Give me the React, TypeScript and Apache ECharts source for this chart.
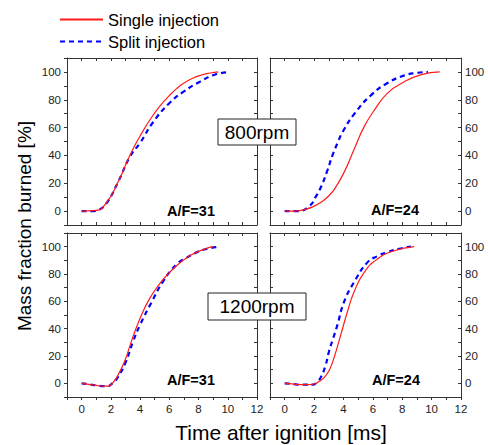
import React, { useEffect, useRef } from 'react';
import * as echarts from 'echarts';

// ---- Data (time after ignition [ms], mass fraction burned [%]) ----
// 800 rpm, A/F = 31
const r800af31SingleT = [0, 1.0, 1.7, 2.5, 3.3, 4.0, 4.7, 5.4, 6.0, 6.5, 7.0, 7.6, 8.2, 8.8, 9.35];
const r800af31SingleV = [0, 0.5, 6, 21, 40, 54, 66, 76, 83, 88, 92, 95.5, 97.8, 99.2, 100];
const r800af31SplitT = [0, 0.8, 1.2, 1.7, 2.5, 3.3, 4.0, 4.9, 6.0, 7.0, 8.1, 9.1, 10.15];
const r800af31SplitV = [0, 0, 1, 5.5, 21, 39, 49, 64, 77.5, 86, 93, 98, 100];
// 800 rpm, A/F = 24
const r800af24SingleT = [0, 0.7, 1.3, 1.9, 2.5, 3.0, 3.4, 4.05, 4.75, 5.4, 6.1, 7.0, 8.15, 9.3, 10.55];
const r800af24SingleV = [0, 0, 1, 3, 6.5, 11, 16, 28, 45, 60.5, 72.5, 84.8, 93, 98, 100];
const r800af24SplitT = [0, 0.9, 1.7, 2.1, 2.5, 2.9, 3.25, 3.6, 3.95, 4.75, 5.9, 7.0, 8.15, 9.0, 9.75];
const r800af24SplitV = [0, 0, 3.8, 10, 18, 29, 40, 49, 57, 70, 83.5, 92, 97.5, 99.3, 100];
// 1200 rpm, A/F = 31
const r1200af31SingleT = [0, 0.5, 1.0, 1.5, 1.8, 2.1, 2.4, 2.95, 3.4, 4.0, 4.65, 5.35, 6.25, 7.4, 8.5, 9.0];
const r1200af31SingleV = [0, -0.7, -1.5, -2, -2, 0, 4.3, 16.3, 30.5, 47.6, 62, 73, 83.7, 93.4, 98.6, 100];
const r1200af31SplitT = [0, 0.5, 1.0, 1.5, 1.8, 2.1, 2.45, 3.0, 3.5, 4.0, 4.8, 5.6, 6.5, 7.2, 7.9, 8.6, 9.47];
const r1200af31SplitV = [0, -0.7, -1.5, -2, -2, 0, 4, 15, 30, 42.8, 59.6, 75, 87, 92, 96, 98.5, 100];
// 1200 rpm, A/F = 24
const r1200af24SingleT = [0, 0.5, 1.1, 1.6, 2.0, 2.35, 2.7, 3.05, 3.36, 3.82, 4.27, 4.72, 5.41, 6.31, 7.45, 8.81];
const r1200af24SingleV = [0, -0.4, -1, -1, -0.5, 1.5, 4.3, 10, 18.8, 35.6, 52.4, 66.8, 81.2, 91, 97, 100];
const r1200af24SplitT = [0, 0.5, 1.1, 1.5, 1.9, 2.2, 2.45, 2.75, 3.02, 3.3, 3.59, 4.04, 4.72, 5.63, 6.3, 7.0, 7.8, 8.59];
const r1200af24SplitV = [0, -0.4, -1, -1, -1, 1, 4.3, 12, 23.5, 33, 42.8, 59.6, 74, 88.5, 93, 96, 98.5, 100];

const xTickLabels = [0, 2, 4, 6, 8, 10, 12];
const yTickLabels = [0, 20, 40, 60, 80, 100];
const panelLabels = ['A/F=31', 'A/F=24', 'A/F=31', 'A/F=24'];
const speedLabels = ['800rpm', '1200rpm'];
const seriesNames = ['Single injection', 'Split injection'];

const FONT = '"Liberation Sans", Arial, Helvetica, sans-serif';
const AXIS_COLOR = '#333';

const grids = [
  { left: 67, top: 58, width: 190, height: 167 },
  { left: 270, top: 58, width: 191, height: 167 },
  { left: 67, top: 233, width: 190, height: 164 },
  { left: 270, top: 233, width: 191, height: 164 },
];

const panelData = [
  [r800af31SingleT, r800af31SingleV, r800af31SplitT, r800af31SplitV],
  [r800af24SingleT, r800af24SingleV, r800af24SplitT, r800af24SplitV],
  [r1200af31SingleT, r1200af31SingleV, r1200af31SplitT, r1200af31SplitV],
  [r1200af24SingleT, r1200af24SingleV, r1200af24SplitT, r1200af24SplitV],
];

function pairs(t: number[], v: number[]) {
  return t.map((x, i) => [x, v[i]]);
}

function xAxisDef(gridIndex: number, position: string, showLabel: boolean, inside: boolean) {
  return {
    type: 'value',
    gridIndex,
    position,
    min: -1,
    max: 12,
    interval: 1,
    axisLine: { show: true, onZero: false, lineStyle: { color: AXIS_COLOR, width: 1 } },
    axisTick: { show: true, inside, length: 3, lineStyle: { color: AXIS_COLOR, width: 1 } },
    splitLine: { show: false },
    axisLabel: {
      show: showLabel,
      margin: 6,
      color: '#222',
      fontSize: 11.5,
      fontFamily: FONT,
      formatter: (v: number) => (xTickLabels.includes(v) ? String(v) : ''),
    },
  };
}

function yAxisDef(gridIndex: number, position: string, showLabel: boolean, inside: boolean) {
  return {
    type: 'value',
    gridIndex,
    position,
    min: -10,
    max: 110,
    interval: 10,
    axisLine: { show: true, onZero: false, lineStyle: { color: AXIS_COLOR, width: 1 } },
    axisTick: { show: true, inside, length: 3, lineStyle: { color: AXIS_COLOR, width: 1 } },
    splitLine: { show: false },
    axisLabel: {
      show: showLabel,
      margin: position === 'left' ? 6 : 4,
      color: '#222',
      fontSize: 11.5,
      fontFamily: FONT,
      formatter: (v: number) => (yTickLabels.includes(v) ? String(v) : ''),
    },
  };
}

export default function App() {
  const ref = useRef<HTMLDivElement>(null);
  useEffect(() => {
    if (!ref.current) return;
    const chart = echarts.init(ref.current, undefined, { renderer: 'svg' });

    const xAxis: any[] = [];
    const yAxis: any[] = [];
    grids.forEach((_, i) => {
      const bottomRow = i >= 2;
      const leftCol = i % 2 === 0;
      xAxis.push(xAxisDef(i, 'bottom', bottomRow, !bottomRow));
      xAxis.push(xAxisDef(i, 'top', false, true));
      yAxis.push(yAxisDef(i, 'left', leftCol, !leftCol));
      yAxis.push(yAxisDef(i, 'right', !leftCol, true));
    });

    const series: any[] = [];
    panelData.forEach((d, i) => {
      series.push({
        name: seriesNames[0],
        type: 'line',
        xAxisIndex: 2 * i,
        yAxisIndex: 2 * i,
        data: pairs(d[0], d[1]),
        symbol: 'none',
        smooth: 0.5,
        lineStyle: { color: '#ff1a1a', width: 1.2 },
        itemStyle: { color: '#ff1a1a' },
        z: 3,
      });
      series.push({
        name: seriesNames[1],
        type: 'line',
        xAxisIndex: 2 * i,
        yAxisIndex: 2 * i,
        data: pairs(d[2], d[3]),
        symbol: 'none',
        smooth: 0.5,
        lineStyle: { color: '#0000ff', width: 2.2, type: [5, 4] },
        itemStyle: { color: '#0000ff' },
        z: 2,
      });
    });

    const afPos = [
      [191, 211],
      [395, 210],
      [191, 380],
      [396, 380],
    ];
    const graphic: any[] = [];
    panelLabels.forEach((txt, i) => {
      graphic.push({
        type: 'text',
        x: afPos[i][0],
        y: afPos[i][1],
        z: 10,
        style: {
          text: txt,
          fill: '#000',
          font: `bold 14.5px ${FONT}`,
          align: 'center',
          verticalAlign: 'middle',
        },
      });
    });
    const boxes = [
      { x: 218, y: 119, w: 78, h: 26, cy: 132 },
      { x: 208, y: 293, w: 98, h: 27, cy: 306.5 },
    ];
    speedLabels.forEach((txt, i) => {
      const b = boxes[i];
      graphic.push({
        type: 'rect',
        z: 20,
        shape: { x: b.x, y: b.y, width: b.w, height: b.h },
        style: { fill: '#fff', stroke: '#222', lineWidth: 1 },
      });
      graphic.push({
        type: 'text',
        z: 21,
        x: b.x + b.w / 2,
        y: b.cy,
        style: {
          text: txt,
          fill: '#000',
          font: `19px ${FONT}`,
          align: 'center',
          verticalAlign: 'middle',
        },
      });
    });
    graphic.push({
      type: 'text',
      z: 10,
      x: 281,
      y: 432,
      style: {
        text: 'Time after ignition [ms]',
        fill: '#000',
        font: `21px ${FONT}`,
        align: 'center',
        verticalAlign: 'middle',
      },
    });
    graphic.push({
      type: 'text',
      z: 10,
      x: 24,
      y: 226,
      rotation: Math.PI / 2,
      style: {
        text: 'Mass fraction burned [%]',
        fill: '#000',
        font: `19px ${FONT}`,
        align: 'center',
        verticalAlign: 'middle',
      },
    });

    chart.setOption({
      animation: false,
      backgroundColor: '#fff',
      legend: {
        data: seriesNames,
        orient: 'vertical',
        left: 59,
        top: 11,
        padding: 0,
        itemWidth: 43,
        itemHeight: 14,
        itemGap: 5,
        selectedMode: false,
        itemStyle: { opacity: 0 },
        textStyle: { fontSize: 16.5, color: '#000', fontFamily: FONT },
      },
      grid: grids,
      xAxis,
      yAxis,
      series,
      graphic,
    });
    return () => chart.dispose();
  }, []);

  return (
    <div
      ref={ref}
      style={{ position: 'fixed', left: 0, top: 0, width: 488, height: 445, background: '#fff' }}
    />
  );
}
